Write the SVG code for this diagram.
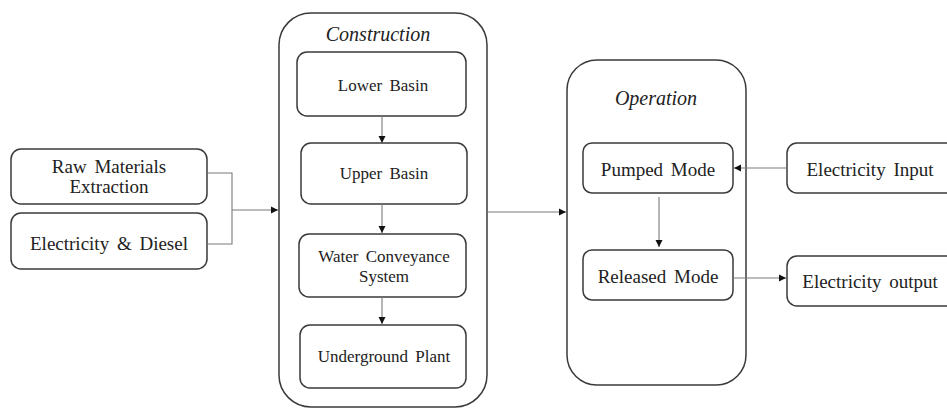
<svg xmlns="http://www.w3.org/2000/svg" width="947" height="409" viewBox="0 0 947 409" font-family="Liberation Serif, Times New Roman, serif">
<defs>
<style>
.box{fill:#fff;stroke:#3a3a3a;stroke-width:1.5}
.t{fill:#222;text-anchor:middle;word-spacing:3px}
.s17{font-size:17px}
.s19{font-size:19px}
.title{font-size:20px;font-style:italic}
.c{fill:none;stroke:#7a7a7a;stroke-width:1.1}
</style>
<marker id="ah" markerWidth="8" markerHeight="8" refX="7" refY="4" orient="auto" markerUnits="userSpaceOnUse">
<path d="M0,0.5 L7,4 L0,7.5 Z" fill="#111"/>
</marker>
</defs>
<rect width="947" height="409" fill="#fff"/>

<g id="raw-materials">
<rect class="box" x="11" y="149" width="196" height="55" rx="10"/>
<text class="t s19" x="109" y="173">Raw Materials</text>
<text class="t s19" x="109" y="193">Extraction</text>
</g>
<g id="electricity-diesel">
<rect class="box" x="11" y="213" width="196" height="56" rx="10"/>
<text class="t s19" x="109" y="250">Electricity &amp; Diesel</text>
</g>

<g id="construction">
<rect class="box" x="279" y="13" width="208" height="394" rx="32"/>
<text class="t title" x="378" y="41">Construction</text>
</g>
<g id="lower-basin">
<rect class="box" x="297" y="52" width="169" height="64" rx="10"/>
<text class="t s17" x="383" y="91">Lower Basin</text>
</g>
<g id="upper-basin">
<rect class="box" x="301" y="143" width="166" height="61" rx="10"/>
<text class="t s17" x="384" y="179">Upper Basin</text>
</g>
<g id="water-conveyance">
<rect class="box" x="299" y="234" width="167" height="63" rx="10"/>
<text class="t s17" x="384" y="262">Water Conveyance</text>
<text class="t s17" x="384" y="282">System</text>
</g>
<g id="underground-plant">
<rect class="box" x="300" y="325" width="166" height="63" rx="10"/>
<text class="t s17" x="384" y="362">Underground Plant</text>
</g>

<g id="operation">
<rect class="box" x="567" y="60" width="179" height="325" rx="30"/>
<text class="t title" x="656" y="105">Operation</text>
</g>
<g id="pumped-mode">
<rect class="box" x="583" y="143" width="150" height="50" rx="9"/>
<text class="t s19" x="658" y="176">Pumped Mode</text>
</g>
<g id="released-mode">
<rect class="box" x="583" y="250" width="150" height="50" rx="9"/>
<text class="t s19" x="658" y="283">Released Mode</text>
</g>

<g id="electricity-input">
<rect class="box" x="787" y="143" width="175" height="50" rx="10"/>
<text class="t s19" x="870" y="176">Electricity Input</text>
</g>
<g id="electricity-output">
<rect class="box" x="787" y="256" width="175" height="50" rx="10"/>
<text class="t s19" x="870" y="288">Electricity output</text>
</g>

<g id="connectors">
<path class="c" d="M207,173 H232 V244 H207"/>
<path class="c" d="M232,210 H278" marker-end="url(#ah)"/>
<path class="c" d="M382,116 V143" marker-end="url(#ah)"/>
<path class="c" d="M382,204 V233" marker-end="url(#ah)"/>
<path class="c" d="M382,297 V324" marker-end="url(#ah)"/>
<path class="c" d="M487,212 H566" marker-end="url(#ah)"/>
<path class="c" d="M659,197 V247" marker-end="url(#ah)"/>
<path class="c" d="M787,168 H734" marker-end="url(#ah)"/>
<path class="c" d="M733,278 H786" marker-end="url(#ah)"/>
</g>
</svg>
